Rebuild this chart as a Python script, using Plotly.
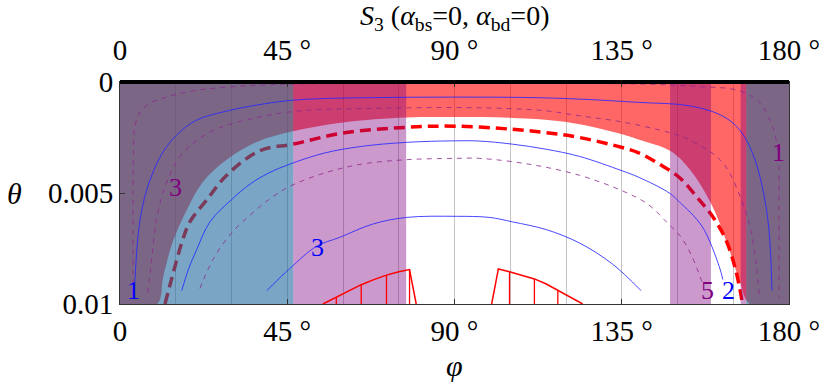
import plotly.graph_objects as go

# ---------------- data (phi in degrees, theta) ----------------
# boundary of the red (excluded) region
red_phi = [10.0, 11.6, 14.2, 18.0, 22.3, 28.7, 36.8, 46.5, 60.0, 77.1, 90.0, 105.6, 120.1,
           135.1, 139.7, 148.0, 153.1, 159.1, 163.4, 166.6, 169.5]
red_theta = [0.0100, 0.0088, 0.0072, 0.00575, 0.0045, 0.0035, 0.0027, 0.00222, 0.00182, 0.00160,
             0.00158, 0.00162, 0.00180, 0.00235, 0.0026, 0.0031, 0.0039, 0.0055, 0.0073, 0.0089, 0.0100]

# vertical bands (phi ranges)
purple_bands = [(46.6, 77.0), (148.0, 159.0), (167.0, 168.5)]
blue_bands = [(0.0, 46.6), (168.5, 180.0)]

# thick dashed boundary
dash_phi = [12.1, 14.0, 16.7, 18.8, 23.4, 28.7, 37.6, 46.5, 60.0, 77.1, 90.0, 105.6, 114.7, 123.6,
            135.1, 139.7, 145.1, 150.5, 155.8, 159.4, 163.0, 165.7, 167.5]
dash_theta = [0.0100, 0.0088, 0.0072, 0.0063, 0.0053, 0.0042, 0.0031, 0.0028, 0.0023, 0.00204,
              0.00199, 0.00213, 0.00228, 0.0025, 0.00295, 0.0032, 0.0037, 0.0043, 0.0053, 0.00605,
              0.0071, 0.0085, 0.0100]

# blue solid contours (levels 1, 2, 3)
b1_phi = [4.0, 5.4, 8.1, 12.6, 19.6, 28.7, 42.2, 51.1, 70, 90, 110, 123.6, 139.7, 153.1, 162.0,
          166.6, 170.1, 172.8, 174.6, 175.4]
b1_theta = [0.0090, 0.0062, 0.0044, 0.0029, 0.00181, 0.00131, 0.00090, 0.00077, 0.0007, 0.00068,
            0.0007, 0.00077, 0.00092, 0.00107, 0.00152, 0.00213, 0.00317, 0.00471, 0.00665, 0.0094]
b2_phi = [16.6, 18.5, 20.5, 24.2, 30, 35, 40, 45.7, 55, 65, 77, 90, 96.7, 105.6, 114.7, 123.6,
          135.1, 139.7, 147.8, 150.5, 156.6, 161.2, 162.2]
b2_theta = [0.0094, 0.0084, 0.0076, 0.0063, 0.0053, 0.0046, 0.0041, 0.0037, 0.0032, 0.0029, 0.00272,
            0.00265, 0.00266, 0.0028, 0.00303, 0.00335, 0.0040, 0.0043, 0.0050, 0.0054, 0.0065,
            0.0083, 0.0089]
b3_phi = [39.5, 45.7, 52.9, 59.1, 68, 77.1, 90.5, 99.4, 105.6, 114.7, 123.6, 132.5, 140.2]
b3_theta = [0.0094, 0.0084, 0.0074, 0.0070, 0.0064, 0.0061, 0.00605, 0.0061, 0.0063, 0.00665,
            0.00725, 0.0082, 0.0094]

# purple dashed contours (levels 1, 3, 5)
pa_phi = [3.5, 3.5, 3.6, 4.0, 5.4, 8.1, 12.6, 19.6, 33, 47.6, 90, 139.7, 155, 166.6, 172, 175.5,
          177.1, 177.3, 177.3]
pa_theta = [0.0096, 0.0060, 0.0035, 0.0020, 0.00136, 0.00095, 0.00068, 0.0004, 0.00018, 0.00009,
            0.00007, 0.00009, 0.0002, 0.00039, 0.00092, 0.00198, 0.0032, 0.0060, 0.0097]
pb_phi = [7.5, 8.6, 9.9, 12.6, 16.9, 24.2, 35, 47.6, 65, 90, 105, 114.7, 123.6, 135.1, 147.8,
          153.1, 162, 167.4, 170.1, 172]
pb_theta = [0.0095, 0.0079, 0.0061, 0.0045, 0.0032, 0.00226, 0.00167, 0.00131, 0.0012, 0.00115,
            0.0012, 0.0013, 0.00152, 0.0018, 0.00228, 0.0026, 0.0036, 0.0054, 0.0070, 0.0096]
pc_phi = [21.5, 25, 30, 35, 40, 45.7, 55, 65, 77, 90, 96.7, 110, 123.6, 135.1, 142, 147, 151,
          154, 156.6]
pc_theta = [0.0093, 0.0080, 0.0068, 0.0060, 0.0053, 0.0047, 0.0041, 0.0037, 0.0035, 0.00344,
            0.00344, 0.0037, 0.0042, 0.0049, 0.0055, 0.0063, 0.0070, 0.0079, 0.0090]

# red hatched humps at the bottom
hump_l_phi = [54.6, 58.2, 61.5, 64.9, 68.3, 71.7, 75.0, 77.9, 79.7]
hump_l_theta = [0.0100, 0.0097, 0.0094, 0.00913, 0.0089, 0.0087, 0.00855, 0.00845, 0.0100]
hump_r_phi = [100.0, 101.8, 104.8, 108.0, 111.5, 114.7, 117.8, 121.0, 124.5]
hump_r_theta = [0.0100, 0.00842, 0.00855, 0.0087, 0.00887, 0.0091, 0.00938, 0.0097, 0.0100]
hatch_phi = [58.2, 64.9, 71.7, 77.9, 104.8, 111.5, 117.8]
hatch_top = [0.0097, 0.00913, 0.0087, 0.00845, 0.00855, 0.00887, 0.00938]

# contour labels
lab_text = ["1", "3", "3", "5", "2", "1"]
lab_phi = [3.5, 14.8, 53.2, 158.2, 163.6, 177.1]
lab_theta = [0.00937, 0.00475, 0.00747, 0.00941, 0.00941, 0.00317]
lab_color = ["blue", "purple", "blue", "purple", "blue", "purple"]

x_ticks = [0, 45, 90, 135, 180]
x_ticktext = ["0", "45 °", "90 °", "135 °", "180 °"]
y_ticks = [0, 0.005, 0.01]
y_ticktext = ["0", "0.005", "0.01"]
THETA_MAX = 0.01

FONT = "Liberation Serif, Times New Roman, Times, serif"
COLORS = {"blue": "rgb(0,0,255)", "purple": "rgb(128,0,128)"}

fig = go.Figure()

# thick dashed curve (under the translucent fills)
fig.add_trace(go.Scatter(x=dash_phi, y=dash_theta, mode="lines", line_shape="spline",
                         line=dict(color="rgb(255,0,0)", width=3.5, dash="11px,6px"),
                         hoverinfo="skip"))

# red region (corner points doubled so the spline keeps the corners sharp)
rx = [0, 0, 180, 180, 180, 180] + red_phi[::-1] + [0, 0]
ry = [0, 0, 0, 0, THETA_MAX, THETA_MAX] + red_theta[::-1] + [THETA_MAX, THETA_MAX]
fig.add_trace(go.Scatter(x=rx, y=ry, fill="toself", fillcolor="rgba(255,0,0,0.6)",
                         mode="lines", line_shape="spline", line=dict(width=0),
                         hoverinfo="skip"))


def bands(bs):
    xs, ys = [], []
    for a, b in bs:
        xs += [a, b, b, a, a, None]
        ys += [0, 0, THETA_MAX, THETA_MAX, 0, None]
    return xs, ys


px_, py_ = bands(purple_bands)
fig.add_trace(go.Scatter(x=px_, y=py_, fill="toself", fillcolor="rgba(128,0,128,0.4)",
                         mode="lines", line=dict(width=0), hoverinfo="skip"))
bx_, by_ = bands(blue_bands)
fig.add_trace(go.Scatter(x=bx_, y=by_, fill="toself", fillcolor="rgba(31,102,157,0.59)",
                         mode="lines", line=dict(width=0), hoverinfo="skip"))

# thin contours
for xs, ys in [(b1_phi, b1_theta), (b2_phi, b2_theta), (b3_phi, b3_theta)]:
    fig.add_trace(go.Scatter(x=xs, y=ys, mode="lines", line_shape="spline",
                             line=dict(color="rgba(40,40,255,0.85)", width=1), hoverinfo="skip"))
for xs, ys in [(pa_phi, pa_theta), (pb_phi, pb_theta), (pc_phi, pc_theta)]:
    fig.add_trace(go.Scatter(x=xs, y=ys, mode="lines", line_shape="spline",
                             line=dict(color="rgba(140,40,140,0.8)", width=1, dash="5px,5px"),
                             hoverinfo="skip"))

# humps and hatching
for xs, ys in [(hump_l_phi, hump_l_theta), (hump_r_phi, hump_r_theta)]:
    fig.add_trace(go.Scatter(x=xs, y=ys, mode="lines",
                             line=dict(color="rgb(255,0,0)", width=1.5), hoverinfo="skip"))
hx, hy = [], []
for p, t in zip(hatch_phi, hatch_top):
    hx += [p, p, None]
    hy += [t, THETA_MAX, None]
fig.add_trace(go.Scatter(x=hx, y=hy, mode="lines", xaxis="x2",
                         line=dict(color="rgb(255,0,0)", width=1.3), hoverinfo="skip"))

annotations = []
for t, p, th, c in zip(lab_text, lab_phi, lab_theta, lab_color):
    annotations.append(dict(x=p, y=th, xref="x", yref="y", text=t, showarrow=False,
                            font=dict(family=FONT, size=26, color=COLORS[c]),
                            xanchor="center", yanchor="middle"))
annotations += [
    dict(x=0.5, y=1.292, xref="paper", yref="paper", showarrow=False,
         text="<i>S</i><sub>3</sub> (<i>α</i><sub>bs</sub>=0, <i>α</i><sub>bd</sub>=0)",
         font=dict(family=FONT, size=28, color="black"), xanchor="center", yanchor="middle"),
    dict(x=0.5, y=-0.278, xref="paper", yref="paper", showarrow=False, text="<i>φ</i>",
         font=dict(family=FONT, size=30, color="black"), xanchor="center", yanchor="middle"),
    dict(x=-0.157, y=0.5, xref="paper", yref="paper", showarrow=False, text="<i>θ</i>",
         font=dict(family=FONT, size=30, color="black"), xanchor="center", yanchor="middle"),
]

axis_common = dict(range=[0, 180], tickvals=x_ticks, ticktext=x_ticktext, ticks="inside",
                   ticklen=5, tickcolor="#333", showline=True, linecolor="#333", linewidth=1,
                   tickfont=dict(family=FONT, size=29, color="black"), zeroline=False)

fig.update_layout(
    width=834, height=388, margin=dict(l=120, r=45, t=82, b=84),
    paper_bgcolor="white", plot_bgcolor="white", showlegend=False,
    xaxis=dict(**axis_common, showgrid=True, gridcolor="#C4C4C4", gridwidth=1,
               minor=dict(dtick=15, showgrid=True, gridcolor="#C4C4C4", gridwidth=1),
               ticklabelstandoff=1),
    xaxis2=dict(**axis_common, overlaying="x", side="top", showgrid=False,
                ticklabelstandoff=9),
    yaxis=dict(range=[THETA_MAX, 0], tickvals=y_ticks, ticktext=y_ticktext, ticks="inside",
               ticklen=5, tickcolor="#333", showline=True, mirror=True, linecolor="#333",
               linewidth=1, showgrid=False, zeroline=False,
               tickfont=dict(family=FONT, size=29, color="black")),
    annotations=annotations,
    shapes=[dict(type="line", xref="paper", yref="paper", x0=0, x1=1, y0=1, y1=1,
                 line=dict(color="black", width=4))],
)

fig.write_html("out.html")
